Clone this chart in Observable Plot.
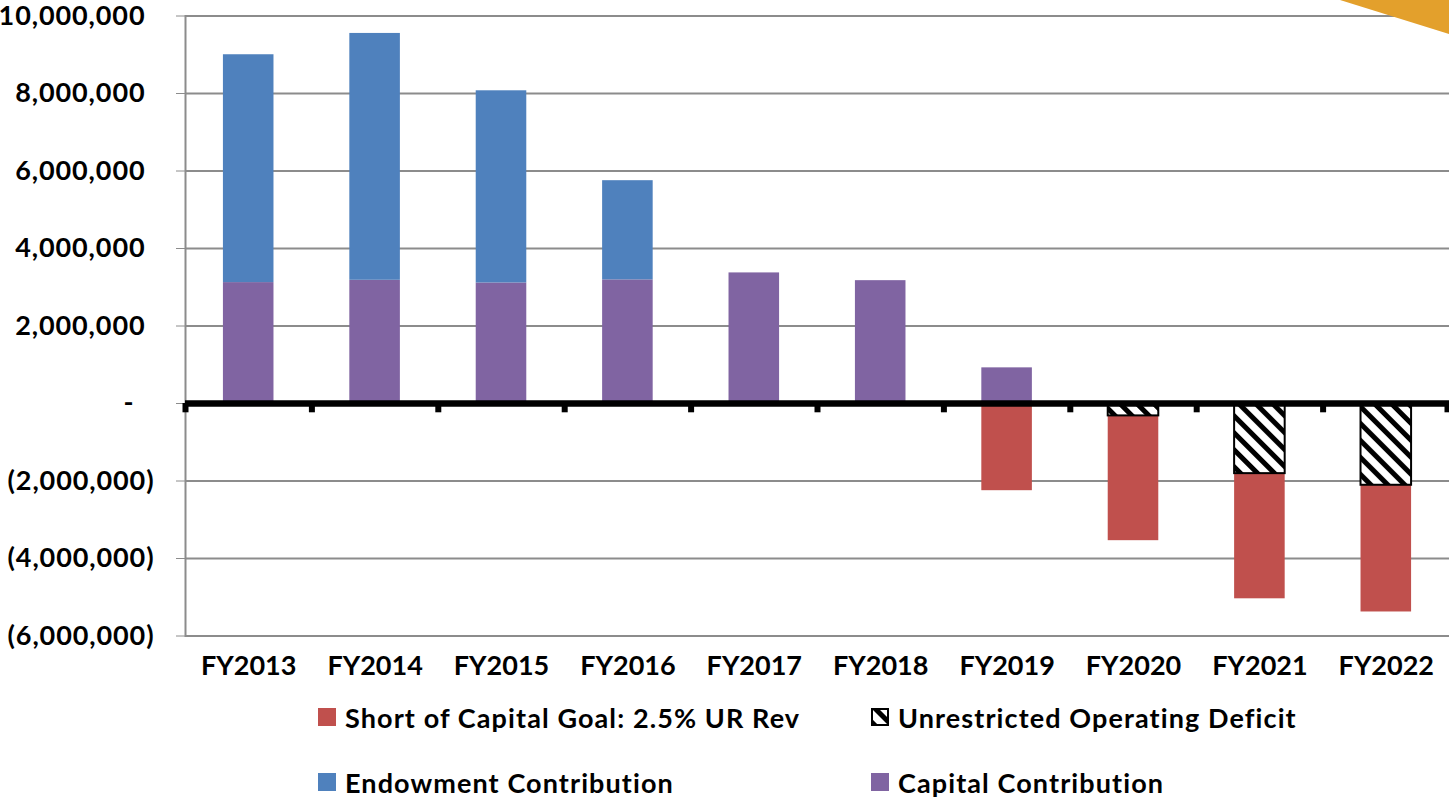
<!DOCTYPE html>
<html><head><meta charset="utf-8">
<script src="https://cdn.jsdelivr.net/npm/d3@7"></script>
<script src="https://cdn.jsdelivr.net/npm/@observablehq/plot@0.6"></script>
<style>
body{margin:0;background:#fff;}
#wrap{position:relative;width:1449px;height:801px;overflow:hidden;font-family:Lato,"Open Sans",sans-serif;font-weight:700;}
#chart{position:absolute;left:0;top:0;}
.leg{position:absolute;display:flex;align-items:center;height:36px;font-size:27px;letter-spacing:1.1px;color:#000;white-space:nowrap;}
.sw{width:18px;height:18px;margin-right:9px;display:inline-block;box-sizing:border-box;flex:none;}
#corner{position:absolute;left:1340px;top:0;width:109px;height:34px;background:#E3A02C;clip-path:polygon(0 0,100% 0,100% 100%);}
.yax text{letter-spacing:0.9px;}
</style></head><body>
<div id="wrap">
  <div id="chart"></div>
  <div id="legend"></div>
  <div id="corner"></div>
</div>
<script>
// ---- data ----
const years = ["FY2013","FY2014","FY2015","FY2016","FY2017","FY2018","FY2019","FY2020","FY2021","FY2022"];
const capitalContribution   = [3120000, 3180000, 3110000, 3190000, 3370000, 3170000, 920000, 0, 0, 0];
const endowmentContribution = [5880000, 6370000, 4960000, 2560000, 0, 0, 0, 0, 0, 0];
const operatingDeficit      = [0, 0, 0, 0, 0, 0, 0, -320000, -1810000, -2110000];
const shortOfCapitalGoal    = [0, 0, 0, 0, 0, 0, -2250000, -3220000, -3230000, -3270000];
const yTicks = [-6000000, -4000000, -2000000, 0, 2000000, 4000000, 6000000, 8000000, 10000000];

const S_SHORT = "Short of Capital Goal: 2.5% UR Rev";
const S_DEF = "Unrestricted Operating Deficit";
const S_END = "Endowment Contribution";
const S_CAP = "Capital Contribution";
const seriesOrder = [S_CAP, S_END, S_DEF, S_SHORT];
const seriesFill = ["#8064A2", "#4F81BD", "url(#hatch)", "#C0504D"];

const table = [];
years.forEach((y, i) => {
  [[S_CAP, capitalContribution], [S_END, endowmentContribution], [S_DEF, operatingDeficit], [S_SHORT, shortOfCapitalGoal]]
    .forEach(([s, arr]) => { if (arr[i] !== 0) table.push({year: y, series: s, value: arr[i]}); });
});
const deficitRows = table.filter(d => d.series === S_DEF);

const W = 1449, ML = 185, MR = 0;
const step = (W - ML - MR) / years.length;
const fmt = d3.format(",");

const chart = Plot.plot({
  width: W,
  height: 690,
  marginLeft: ML,
  marginRight: MR,
  marginTop: 15.5,
  marginBottom: 54.5,
  style: {fontFamily: "Lato, 'Open Sans', sans-serif", fontWeight: "700", fontSize: "27px", color: "black", background: "transparent", overflow: "visible"},
  x: {domain: years, paddingInner: 0.6, paddingOuter: 0.3, round: false, axis: null, label: null},
  y: {domain: [-6000000, 10000000], axis: null, label: null},
  color: {domain: seriesOrder, range: seriesFill},
  marks: [
    Plot.gridY(yTicks.filter(d => d !== 0), {stroke: "#8c8c8c", strokeOpacity: 1, strokeWidth: 2}),
    Plot.frame({anchor: "left", stroke: "#8c8c8c", strokeWidth: 2}),
    Plot.axisY(yTicks.filter(d => d > 0), {label: null, className: "yax", tickSize: 9, tickPadding: 31, stroke: "#8c8c8c", fill: "black", tickFormat: d => fmt(d)}),
    Plot.axisY(yTicks.filter(d => d < 0), {label: null, className: "yax", tickSize: 9, tickPadding: 22, stroke: "#8c8c8c", fill: "black", tickFormat: d => "(" + fmt(-d) + ")"}),
    Plot.axisY([0], {label: null, tickSize: 9, tickPadding: 43, stroke: "#8c8c8c", fill: "black", tickFormat: () => "-"}),
    Plot.barY(table, Plot.stackY({x: "year", y: "value", fill: "series", order: seriesOrder})),
    Plot.barY(deficitRows, Plot.stackY({x: "year", y: "value", fill: "none", stroke: "black", strokeWidth: 2})),
    Plot.ruleY([0], {stroke: "black", strokeWidth: 6.5}),
    Plot.ruleX(years, {x: d => d, dx: -step / 2, y1: 0, y2: -240000, stroke: "black", strokeWidth: 6}),
    Plot.ruleX([years[years.length - 1]], {x: d => d, dx: step / 2 - 2, y1: 0, y2: -240000, stroke: "black", strokeWidth: 6}),
    Plot.axisX({anchor: "bottom", label: null, tickSize: 0, tickPadding: 19.5, fill: "black"})
  ]
});

// hatch pattern ("\" stripes)
const defs = d3.select(chart).insert("defs", ":first-child");
const pat = defs.append("pattern").attr("id", "hatch").attr("patternUnits", "userSpaceOnUse")
  .attr("width", 12).attr("height", 12).attr("patternTransform", "rotate(-45)");
pat.append("rect").attr("width", 12).attr("height", 12).attr("fill", "white");
pat.append("rect").attr("width", 5).attr("height", 12).attr("fill", "black");

document.getElementById("chart").appendChild(chart);

// legend
const legendItems = [
  {label: S_SHORT, left: 318, top: 717, fill: "#C0504D"},
  {label: S_DEF, left: 871, top: 717, fill: "hatch"},
  {label: S_END, left: 318, top: 782, fill: "#4F81BD"},
  {label: S_CAP, left: 871, top: 782, fill: "#8064A2"}
];
const leg = d3.select("#legend");
legendItems.forEach(it => {
  const div = leg.append("div").attr("class", "leg").style("left", it.left + "px").style("top", (it.top - 18) + "px");
  if (it.fill === "hatch") {
    const s = div.append("svg").attr("class", "sw").attr("width", 18).attr("height", 18);
    const p = s.append("defs").append("pattern").attr("id", "hatchLeg").attr("patternUnits", "userSpaceOnUse")
      .attr("width", 12).attr("height", 12).attr("patternTransform", "rotate(-45)");
    p.append("rect").attr("width", 12).attr("height", 12).attr("fill", "white");
    p.append("rect").attr("width", 5).attr("height", 12).attr("fill", "black");
    s.append("rect").attr("x", 1).attr("y", 1).attr("width", 16).attr("height", 16)
      .attr("fill", "url(#hatchLeg)").attr("stroke", "black").attr("stroke-width", 2);
  } else {
    div.append("span").attr("class", "sw").style("background", it.fill);
  }
  div.append("span").text(it.label);
});
</script>
</body></html>
